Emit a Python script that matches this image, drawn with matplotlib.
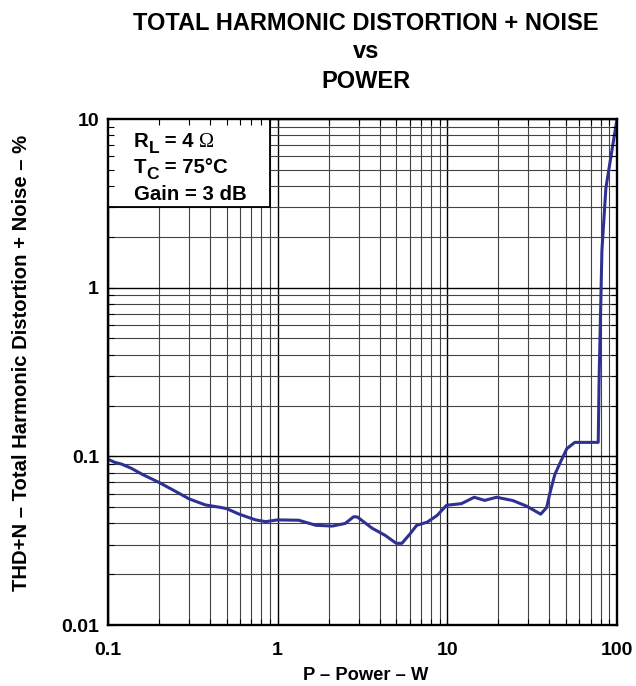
import matplotlib
matplotlib.use('Agg')
import matplotlib.pyplot as plt
from matplotlib.ticker import LogLocator, NullFormatter, FixedLocator, FixedFormatter
import matplotlib.patches as mpatches
import numpy as np

plt.rcParams['font.family'] = ['Liberation Sans', 'DejaVu Sans']
plt.rcParams['font.weight'] = 'bold'

# ---- data ----
power_w = [0.1, 0.11, 0.12, 0.137, 0.16, 0.2, 0.25, 0.3, 0.375, 0.45, 0.5,
           0.59, 0.74, 0.85, 1.0, 1.33, 1.68, 2.1, 2.5, 2.8, 2.95, 3.6, 4.3,
           5.0, 5.4, 6.0, 6.6, 7.6, 8.7, 9.9, 12.1, 14.4, 16.6, 19.5, 24.3,
           29.3, 35.5, 38.5, 40.2, 43.0, 46.1, 50.6, 56.4, 77.5, 78.5, 79.5,
           81.5, 86.0, 100.0]
thdn_pct = [0.096, 0.092, 0.090, 0.085, 0.078, 0.070, 0.062, 0.056, 0.0515,
            0.050, 0.049, 0.0455, 0.042, 0.041, 0.042, 0.0418, 0.039, 0.0386,
            0.040, 0.0438, 0.0437, 0.0375, 0.034, 0.0305, 0.0305, 0.0345,
            0.039, 0.0407, 0.0446, 0.0513, 0.0524, 0.0572, 0.0548, 0.0572,
            0.0547, 0.0507, 0.0454, 0.0497, 0.0604, 0.078, 0.091, 0.111,
            0.121, 0.121, 0.30, 0.535, 1.66, 3.9, 10.0]

x_ticks = [0.1, 1, 10, 100]
x_tick_labels = ['0.1', '1', '10', '100']
y_ticks = [0.01, 0.1, 1, 10]
y_tick_labels = ['0.01', '0.1', '1', '10']

title_lines = ['TOTAL HARMONIC DISTORTION + NOISE', 'vs', 'POWER']
x_label = 'P \u2013 Power \u2013 W'
y_label = 'THD+N \u2013 Total Harmonic Distortion + Noise \u2013 %'

# ---- figure ----
W, H = 636, 686
fig = plt.figure(figsize=(W / 100, H / 100), dpi=100)
L, R, T, B = 108, 617, 119, 625
pos = [L / W, 1 - B / H, (R - L) / W, (B - T) / H]
ax = fig.add_axes(pos)
ax.set_xscale('log')
ax.set_yscale('log')
ax.set_xlim(0.1, 100)
ax.set_ylim(0.01, 10)

ax.xaxis.set_major_locator(FixedLocator(x_ticks))
ax.xaxis.set_major_formatter(FixedFormatter(x_tick_labels))
ax.yaxis.set_major_locator(FixedLocator(y_ticks))
ax.yaxis.set_major_formatter(FixedFormatter(y_tick_labels))
ax.xaxis.set_minor_locator(LogLocator(base=10, subs=np.arange(2, 10)))
ax.yaxis.set_minor_locator(LogLocator(base=10, subs=np.arange(2, 10)))
ax.xaxis.set_minor_formatter(NullFormatter())
ax.yaxis.set_minor_formatter(NullFormatter())

ax.grid(which='major', color='black', lw=1.0)
ax.grid(which='minor', color='#444444', lw=0.8)
ax.set_axisbelow(True)
ax.tick_params(which='both', length=0)
ax.tick_params(axis='x', pad=12, labelsize=14)
ax.tick_params(axis='y', pad=6.5, labelsize=14)
for s in ax.spines.values():
    s.set_linewidth(1.7)
    s.set_zorder(4)

# white legend box covering the grid
box = mpatches.Rectangle((0.1, 3.0), 0.8, 7.0, transform=ax.transData,
                         facecolor='white', edgecolor='black', lw=1.3, zorder=1)
ax.add_patch(box)

ax.plot(power_w, thdn_pct, color='#2e3192', lw=2.2, zorder=3,
        solid_joinstyle='round')

# overlay axes for inward ticks drawn above the box
ax2 = fig.add_axes(pos, sharex=ax, sharey=ax)
ax2.patch.set_visible(False)
for s in ax2.spines.values():
    s.set_visible(False)
ax2.tick_params(which='both', direction='in', length=4, width=0.8,
                top=True, right=True, labelbottom=False, labelleft=False)
ax2.grid(False)

# text in box
fs = 14.7
sub_fs = 12.5
x0 = 134
fig.canvas.draw()
r = fig.canvas.get_renderer()

def chain(parts, y):
    x = x0
    for txt, dy, size, fam in parts:
        t = fig.text(x / W, 1 - (y + dy) / H, txt, fontsize=size,
                     fontweight='bold' if fam is None else 'normal',
                     family=fam if fam else ['Liberation Sans', 'DejaVu Sans'],
                     ha='left', va='baseline')
        x += t.get_window_extent(renderer=r).width

chain([('R', 0, fs, None), ('L', 6, sub_fs, None), (' = 4 ', 0, fs, None),
       ('\u03a9', 0, fs, 'Liberation Serif')], 147)
chain([('T', 0, fs, None), ('C', 6, sub_fs, None), (' = 75\u00b0C', 0, fs, None)], 173)
chain([('Gain = 3 dB', 0, fs, None)], 200)

# titles
cx = 366
for line, yy in zip(title_lines, [23, 52, 81]):
    fig.text(cx / W, 1 - yy / H, line, fontsize=17, fontweight='bold',
             ha='center', va='center')

fig.text(cx / W, 1 - 676 / H, x_label, fontsize=13.2, fontweight='bold',
         ha='center', va='center')
fig.text(22 / W, 1 - 363 / H, y_label, fontsize=14.6, fontweight='bold',
         ha='center', va='center', rotation=90)

fig.savefig('out.png', dpi=100)
